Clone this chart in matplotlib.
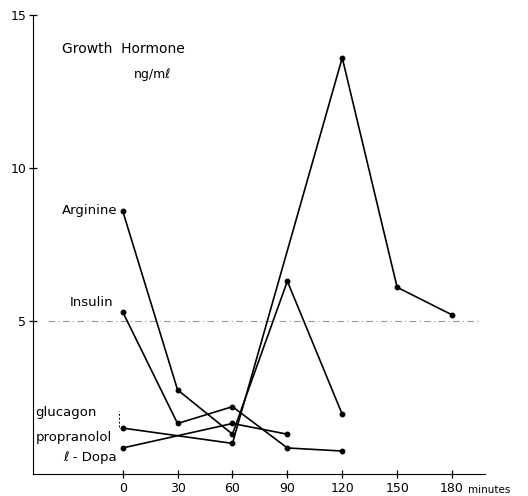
import numpy as np
import matplotlib
matplotlib.use("Agg")
import matplotlib.pyplot as plt

# temps de prelevement (minutes)
temps_ticks = [0, 30, 60, 90, 120, 150, 180]

# Growth hormone (ng/ml) pour chaque test
arginine_t = [0, 30, 60, 90, 120]
arginine = [8.6, 2.75, 1.3, 6.3, 1.95]

insulin_t = [0, 30, 60, 90, 120]
insulin = [5.3, 1.65, 2.2, 0.85, 0.75]

glucprop_t = [0, 60, 120, 150, 180]
glucprop = [1.5, 1.0, 13.6, 6.1, 5.2]

ldopa_t = [0, 60, 90]
ldopa = [0.85, 1.65, 1.3]

fig = plt.figure(figsize=(5.28, 4.96), dpi=100)
ax = fig.add_axes([0.0625, 0.0444, 0.856, 0.9254])

# ligne de reference a 5 ng/ml
ax.hlines(5, -41, 196, colors="#999999", linestyles=(0, (6, 3, 1, 3)), lw=0.8)

for t, v in [(arginine_t, arginine), (insulin_t, insulin),
             (glucprop_t, glucprop), (ldopa_t, ldopa)]:
    ax.plot(t, v, color="black", lw=1.2, marker="o", ms=3.2)

# petit trait pointille du glucagon
ax.vlines(-2, 1.55, 2.05, colors="black", linestyles=(0, (2, 2)), lw=0.7)

ax.set_xlim(-49, 198)
ax.set_ylim(0, 15)
ax.spines["top"].set_visible(False)
ax.spines["right"].set_visible(False)
ax.set_xticks(temps_ticks)
ax.set_xticklabels([str(t) for t in temps_ticks])
ax.set_yticks([5, 10, 15])
ax.tick_params(axis="both", direction="inout", length=6, width=0.9, labelsize=9)
ax.tick_params(axis="x", pad=3)
ax.tick_params(axis="y", pad=2)

# textes
ax.text(-33, 13.9, "Growth  Hormone", fontsize=10, va="center")
ax.text(6, 13.05, "ng/mℓ", fontsize=9, va="center")
ax.text(-3, 8.6, "Arginine", fontsize=9.5, ha="right", va="center")
ax.text(-5, 5.6, "Insulin", fontsize=9.5, ha="right", va="center")
ax.text(-47.5, 2.0, "glucagon", fontsize=9.5, va="center")
ax.text(-47.5, 1.2, "propranolol", fontsize=9.5, va="center")
ax.text(-3, 0.55, "ℓ - Dopa", fontsize=9.5, ha="right", va="center")
ax.text(1.01, -0.035, "minutes", fontsize=7.5, transform=ax.transAxes,
        ha="center", va="center")

plt.savefig("out.png", dpi=100)
